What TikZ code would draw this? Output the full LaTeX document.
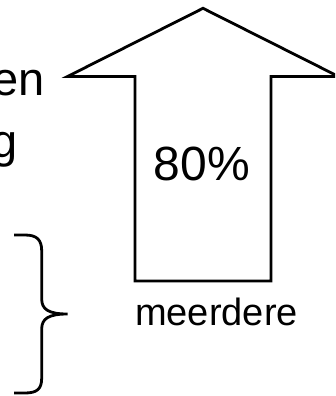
\documentclass[tikz,border=0pt]{standalone}
\usepackage{fontspec}
\setmainfont{Liberation Sans}
\begin{document}
\begin{tikzpicture}[x=1pt,y=-1pt,
  outline/.style={line width=2.8pt,line join=miter},
  bracestyle/.style={line width=2.8pt,line cap=butt},
  bigtext/.style={inner sep=0pt,anchor=base,font=\fontsize{48}{56}\selectfont},
  sidetext/.style={inner sep=0pt,anchor=base west,font=\fontsize{47}{56}\selectfont},
  labeltext/.style={inner sep=0pt,anchor=base,font=\fontsize{38}{46}\selectfont}]
\useasboundingbox (0,0) rectangle (335,396);
\clip (0,0) rectangle (335,396);
% arrow
\coordinate (tip) at (203,8.3);
\coordinate (lw) at (67.5,76.5);
\coordinate (rw) at (338.5,76.5);
\coordinate (ls) at (135,76.5);
\coordinate (rs) at (271,76.5);
\coordinate (lb) at (135,281);
\coordinate (rb) at (271,281);
\draw[outline] (tip) -- (rw) -- (rs) -- (rb) -- (lb) -- (ls) -- (lw) -- cycle;
\node[bigtext] (pct) at (202,180) {80\%};
\node[labeltext] (lbl) at (216.5,325) {meerdere};
% left texts
\node[sidetext] (t1) at (-7.7,95) {en};
\node[sidetext] (t2) at (-8.5,157) {g};
% brace
\draw[bracestyle] (14,235) -- (25,235)
  .. controls (37,235) and (41.7,240) .. (41.7,251)
  -- (41.7,299)
  .. controls (41.7,309) and (48,314) .. (67.5,314)
  .. controls (48,314) and (41.7,319) .. (41.7,329)
  -- (41.7,378)
  .. controls (41.7,389) and (37,393) .. (25,393)
  -- (14,393);
\end{tikzpicture}
\end{document}
